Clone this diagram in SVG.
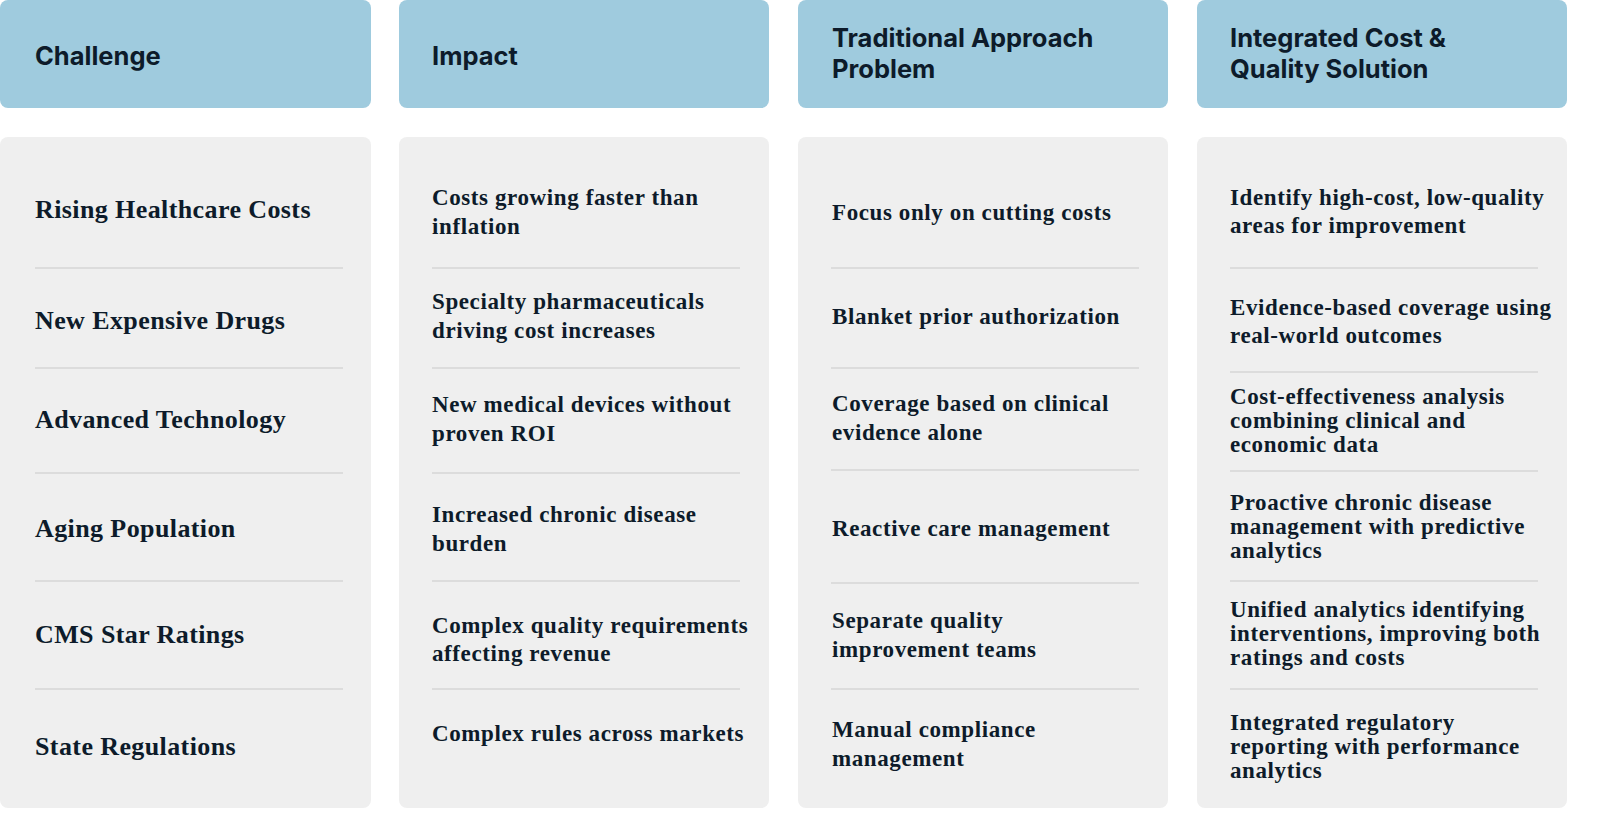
<svg xmlns="http://www.w3.org/2000/svg" width="1600" height="824" viewBox="0 0 1600 824">
<style>
.hd{fill:#9fcbde}.bd{fill:#efefef}
.ht{font-family:"Inter","Liberation Sans",sans-serif;font-weight:700;font-size:25.5px;fill:#0d1b2a}
.ch{font-family:"Liberation Serif",serif;font-weight:700;font-size:26px;letter-spacing:0.4px;fill:#0d1b2a}
.tx{font-family:"Liberation Serif",serif;font-size:23px;letter-spacing:0.6px;fill:#0d1b2a;font-weight:600}
.sep{stroke:#d6d6d6;stroke-width:1.5}
</style>
<rect width="1600" height="824" fill="#fff"/>
<g id="headers">
<g id="h1"><rect class="hd" x="0" y="0" width="371" height="108" rx="8"/><text class="ht" x="35" y="65">Challenge</text></g>
<g id="h2"><rect class="hd" x="399" y="0" width="370" height="108" rx="8"/><text class="ht" x="432" y="65">Impact</text></g>
<g id="h3"><rect class="hd" x="798" y="0" width="370" height="108" rx="8"/><text class="ht" x="832" y="47">Traditional Approach</text><text class="ht" x="832" y="78">Problem</text></g>
<g id="h4"><rect class="hd" x="1197" y="0" width="370" height="108" rx="8"/><text class="ht" x="1230" y="47">Integrated Cost &amp;</text><text class="ht" x="1230" y="78">Quality Solution</text></g>
</g>
<g id="col1"><rect class="bd" x="0" y="137" width="371" height="671" rx="8"/>
<text class="ch" x="35" y="218">Rising Healthcare Costs</text>
<text class="ch" x="35" y="329">New Expensive Drugs</text>
<text class="ch" x="35" y="428">Advanced Technology</text>
<text class="ch" x="35" y="537">Aging Population</text>
<text class="ch" x="35" y="643">CMS Star Ratings</text>
<text class="ch" x="35" y="755">State Regulations</text>
</g>
<g id="col2"><rect class="bd" x="399" y="137" width="370" height="671" rx="8"/>
<text class="tx" x="432" y="205">Costs growing faster than</text><text class="tx" x="432" y="234">inflation</text>
<text class="tx" x="432" y="309">Specialty pharmaceuticals</text><text class="tx" x="432" y="338">driving cost increases</text>
<text class="tx" x="432" y="412">New medical devices without</text><text class="tx" x="432" y="441">proven ROI</text>
<text class="tx" x="432" y="522">Increased chronic disease</text><text class="tx" x="432" y="551">burden</text>
<text class="tx" x="432" y="633">Complex quality requirements</text><text class="tx" x="432" y="661">affecting revenue</text>
<text class="tx" x="432" y="741">Complex rules across markets</text>
</g>
<g id="col3"><rect class="bd" x="798" y="137" width="370" height="671" rx="8"/>
<text class="tx" x="832" y="220">Focus only on cutting costs</text>
<text class="tx" x="832" y="324">Blanket prior authorization</text>
<text class="tx" x="832" y="411">Coverage based on clinical</text><text class="tx" x="832" y="440">evidence alone</text>
<text class="tx" x="832" y="536">Reactive care management</text>
<text class="tx" x="832" y="628">Separate quality</text><text class="tx" x="832" y="657">improvement teams</text>
<text class="tx" x="832" y="737">Manual compliance</text><text class="tx" x="832" y="766">management</text>
</g>
<g id="col4"><rect class="bd" x="1197" y="137" width="370" height="671" rx="8"/>
<text class="tx" x="1230" y="205">Identify high-cost, low-quality</text><text class="tx" x="1230" y="233">areas for improvement</text>
<text class="tx" x="1230" y="315">Evidence-based coverage using</text><text class="tx" x="1230" y="343">real-world outcomes</text>
<text class="tx" x="1230" y="404">Cost-effectiveness analysis</text><text class="tx" x="1230" y="428">combining clinical and</text><text class="tx" x="1230" y="452">economic data</text>
<text class="tx" x="1230" y="510">Proactive chronic disease</text><text class="tx" x="1230" y="534">management with predictive</text><text class="tx" x="1230" y="558">analytics</text>
<text class="tx" x="1230" y="617">Unified analytics identifying</text><text class="tx" x="1230" y="641">interventions, improving both</text><text class="tx" x="1230" y="665">ratings and costs</text>
<text class="tx" x="1230" y="730">Integrated regulatory</text><text class="tx" x="1230" y="754">reporting with performance</text><text class="tx" x="1230" y="778">analytics</text>
</g>
<g id="separators">
<path class="sep" d="M35 268H343M35 368H343M35 473H343M35 581H343M35 689H343"/>
<path class="sep" d="M432 268H740M432 368H740M432 473H740M432 581H740M432 689H740"/>
<path class="sep" d="M831 268H1139M831 368H1139M831 470H1139M831 583H1139M831 689H1139"/>
<path class="sep" d="M1230 268H1538M1230 372H1538M1230 471H1538M1230 581H1538M1230 689H1538"/>
</g>
</svg>
